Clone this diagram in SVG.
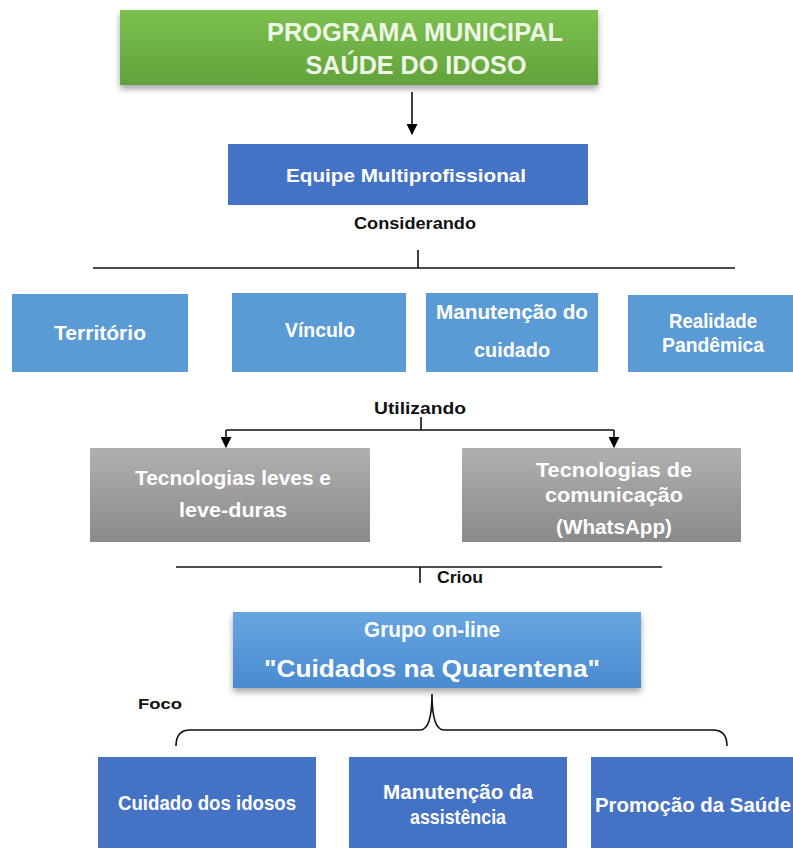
<svg xmlns="http://www.w3.org/2000/svg" width="793" height="848" viewBox="0 0 793 848">
<defs>
<linearGradient id="gGreen" x1="0" y1="0" x2="0" y2="1">
<stop offset="0" stop-color="#7cc04f"/><stop offset="1" stop-color="#62a23c"/>
</linearGradient>
<linearGradient id="gGray" x1="0" y1="0" x2="0" y2="1">
<stop offset="0" stop-color="#b0b0b0"/><stop offset="1" stop-color="#8a8a8a"/>
</linearGradient>
<linearGradient id="gBlue" x1="0" y1="0" x2="0" y2="1">
<stop offset="0" stop-color="#67a6e0"/><stop offset="1" stop-color="#4a8ad0"/>
</linearGradient>
<filter id="sh" x="-10%" y="-20%" width="120%" height="150%">
<feDropShadow dx="0" dy="4" stdDeviation="3" flood-color="#000" flood-opacity="0.35"/>
</filter>
<marker id="ah" viewBox="0 0 10 10" refX="9" refY="5" markerWidth="11" markerHeight="11" markerUnits="userSpaceOnUse" orient="auto">
<path d="M0,0 L10,5 L0,10 z" fill="#000"/>
</marker>
</defs>
<style>
text{font-family:"Liberation Sans",Arial,sans-serif;font-weight:bold;text-anchor:middle}
.w{fill:#ffffff}
.k{fill:#111}
.ln{stroke:#111;stroke-width:1.6;fill:none}
.dk{fill:#4472c4}
.lt{fill:#5b9bd5}
</style>
<rect width="793" height="848" fill="#ffffff"/>

<g id="connectors">
<line class="ln" x1="412" y1="92" x2="412" y2="134" marker-end="url(#ah)"/>
<line class="ln" x1="418" y1="250" x2="418" y2="268"/>
<line class="ln" x1="93" y1="268" x2="735" y2="268"/>
<line class="ln" x1="421" y1="417" x2="421" y2="430"/>
<line class="ln" x1="226" y1="430" x2="614" y2="430"/>
<line class="ln" x1="226" y1="430" x2="226" y2="447" marker-end="url(#ah)"/>
<line class="ln" x1="614" y1="430" x2="614" y2="447" marker-end="url(#ah)"/>
<line class="ln" x1="176" y1="567" x2="662" y2="567"/>
<line class="ln" x1="420" y1="567" x2="420" y2="583"/>
<path class="ln" d="M176,746 Q176,730 190,730 L420,730 Q432,730 432,694 Q432,730 444,730 L713,730 Q727,730 727,746"/>
</g>

<g id="programa">
<rect x="120" y="10" width="478" height="75" fill="url(#gGreen)" filter="url(#sh)"/>
<text x="415" y="41" font-size="25" fill="#eef7e6" textLength="296" lengthAdjust="spacingAndGlyphs">PROGRAMA MUNICIPAL</text>
<text x="416" y="74" font-size="25" fill="#eef7e6" textLength="221" lengthAdjust="spacingAndGlyphs">SAÚDE DO IDOSO</text>
</g>

<g id="equipe">
<rect class="dk" x="228" y="144" width="360" height="61"/>
<text class="w" x="406" y="182" font-size="19" textLength="240" lengthAdjust="spacingAndGlyphs">Equipe Multiprofissional</text>
</g>
<text class="k" x="415" y="229" font-size="16" textLength="122" lengthAdjust="spacingAndGlyphs">Considerando</text>

<g id="territorio">
<rect class="lt" x="12" y="294" width="176" height="78"/>
<text class="w" x="100" y="340" font-size="20" textLength="92" lengthAdjust="spacingAndGlyphs">Território</text>
</g>
<g id="vinculo">
<rect class="lt" x="232" y="293" width="174" height="79"/>
<text class="w" x="320" y="337" font-size="20" textLength="70" lengthAdjust="spacingAndGlyphs">Vínculo</text>
</g>
<g id="manutencao">
<rect class="lt" x="426" y="293" width="172" height="79"/>
<text class="w" x="512" y="319" font-size="20" textLength="152" lengthAdjust="spacingAndGlyphs">Manutenção do</text>
<text class="w" x="512" y="357" font-size="20" textLength="76" lengthAdjust="spacingAndGlyphs">cuidado</text>
</g>
<g id="realidade">
<rect class="lt" x="628" y="295" width="165" height="77"/>
<text class="w" x="713" y="328" font-size="20" textLength="88" lengthAdjust="spacingAndGlyphs">Realidade</text>
<text class="w" x="713" y="352" font-size="20" textLength="102" lengthAdjust="spacingAndGlyphs">Pandêmica</text>
</g>

<text class="k" x="420" y="414" font-size="16" textLength="92" lengthAdjust="spacingAndGlyphs">Utilizando</text>

<g id="tec-leves">
<rect x="90" y="448" width="280" height="94" fill="url(#gGray)"/>
<text class="w" x="233" y="485" font-size="20" textLength="196" lengthAdjust="spacingAndGlyphs">Tecnologias leves e</text>
<text class="w" x="233" y="517" font-size="20" textLength="108" lengthAdjust="spacingAndGlyphs">leve-duras</text>
</g>
<g id="tec-comunicacao">
<rect x="462" y="448" width="279" height="94" fill="url(#gGray)"/>
<text class="w" x="614" y="477" font-size="20" textLength="156" lengthAdjust="spacingAndGlyphs">Tecnologias de</text>
<text class="w" x="614" y="502" font-size="20" textLength="138" lengthAdjust="spacingAndGlyphs">comunicação</text>
<text class="w" x="614" y="534" font-size="20" textLength="116" lengthAdjust="spacingAndGlyphs">(WhatsApp)</text>
</g>

<text class="k" x="460" y="583" font-size="16" textLength="46" lengthAdjust="spacingAndGlyphs">Criou</text>

<g id="grupo">
<rect x="233" y="612" width="408" height="76" fill="url(#gBlue)" filter="url(#sh)"/>
<text class="w" x="432" y="637" font-size="22" textLength="136" lengthAdjust="spacingAndGlyphs">Grupo on-line</text>
<text class="w" x="432" y="677" font-size="24" textLength="336" lengthAdjust="spacingAndGlyphs">"Cuidados na Quarentena"</text>
</g>

<text class="k" x="160" y="709" font-size="15" textLength="44" lengthAdjust="spacingAndGlyphs">Foco</text>

<g id="cuidado-idosos">
<rect class="dk" x="98" y="757" width="218" height="91"/>
<text class="w" x="207" y="810" font-size="20" textLength="178" lengthAdjust="spacingAndGlyphs">Cuidado dos idosos</text>
</g>
<g id="manutencao-assistencia">
<rect class="dk" x="349" y="757" width="218" height="91"/>
<text class="w" x="458" y="799" font-size="20" textLength="150" lengthAdjust="spacingAndGlyphs">Manutenção da</text>
<text class="w" x="458" y="824" font-size="20" textLength="96" lengthAdjust="spacingAndGlyphs">assistência</text>
</g>
<g id="promocao">
<rect class="dk" x="591" y="757" width="202" height="91"/>
<text class="w" x="693" y="812" font-size="20" textLength="196" lengthAdjust="spacingAndGlyphs">Promoção da Saúde</text>
</g>
</svg>
